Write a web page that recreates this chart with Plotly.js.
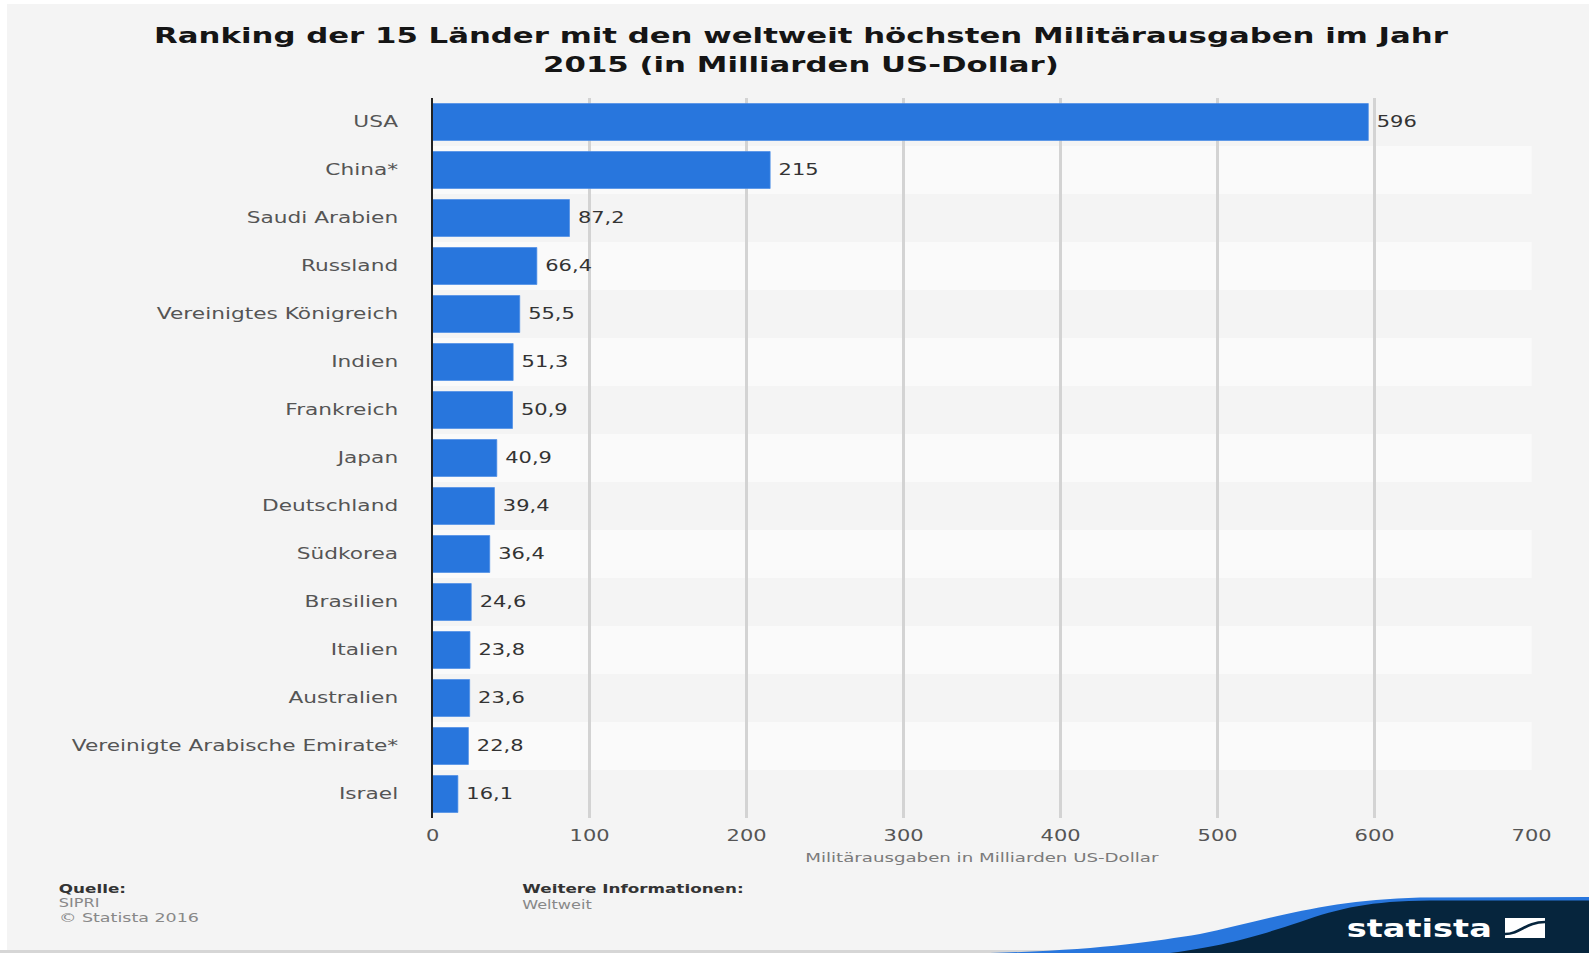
<!DOCTYPE html>
<html>
<head>
<meta charset="utf-8">
<script src="https://cdn.plot.ly/plotly-3.0.1.min.js"></script>
<style>
html,body{margin:0;padding:0;overflow:hidden;background:#fff;}
#chart{width:1135px;height:953px;transform:scaleX(1.4);transform-origin:0 0;}
</style>
</head>
<body>
<div id="chart"></div>
<script>
// ---- data ----
const categories = ['USA','China*','Saudi Arabien','Russland','Vereinigtes Königreich','Indien','Frankreich','Japan','Deutschland','Südkorea','Brasilien','Italien','Australien','Vereinigte Arabische Emirate*','Israel'];
const values = [596, 215, 87.2, 66.4, 55.5, 51.3, 50.9, 40.9, 39.4, 36.4, 24.6, 23.8, 23.6, 22.8, 16.1];
const xTickVals = [0, 100, 200, 300, 400, 500, 600, 700];
const titleText = 'Ranking der 15 Länder mit den weltweit höchsten Militärausgaben im Jahr<br>2015 (in Milliarden US-Dollar)';
const xAxisTitle = 'Militärausgaben in Milliarden US-Dollar';
const sourceLines = ['Quelle:', 'SIPRI', '© Statista 2016'];
const infoLines = ['Weitere Informationen:', 'Weltweit'];
const brand = 'statista';

// ---- geometry helpers (full-size pixel -> paper) ----
const S = 1.4, W = 1135, H = 953;
const M = {l: 309, r: 41, t: 98, b: 135};
const PW = W - M.l - M.r, PH = H - M.t - M.b;
const px = x => ((x / S) - M.l) / PW;
const py = y => (H - M.b - y) / PH;
const P = (x, y) => px(x).toFixed(5) + ',' + py(y).toFixed(5);

const FONT = 'DejaVu Sans, Verdana, sans-serif';
const labels = values.map(v => '\u2009' + v.toLocaleString('de-DE'));

const trace = {
  type: 'bar',
  orientation: 'h',
  y: categories,
  x: values,
  text: labels,
  textposition: 'outside',
  cliponaxis: false,
  textfont: {family: FONT, size: 15, color: '#333333'},
  marker: {color: '#2876dd', line: {color: '#4b8de6', width: 0.6}},
  hoverinfo: 'skip'
};

const shapes = [];
// panel background
shapes.push({type:'rect', xref:'paper', yref:'paper', x0:px(7), x1:px(1589), y0:py(4), y1:py(950), fillcolor:'#f4f4f4', line:{width:0}, layer:'below'});
shapes.push({type:'rect', xref:'paper', yref:'paper', x0:px(0), x1:px(1589), y0:py(950), y1:py(953), fillcolor:'#d6d6d6', line:{width:0}, layer:'below'});
// row stripes
categories.forEach((c, i) => {
  shapes.push({type:'rect', xref:'paper', yref:'y', x0:0, x1:1, y0:i-0.5, y1:i+0.5,
    fillcolor: i % 2 ? '#fafafa' : '#f4f4f4', line:{width:0}, layer:'below'});
});
// statista swoosh
shapes.push({type:'path', xref:'paper', yref:'paper', layer:'above',
  path:'M '+P(990,953)+' C '+P(1100,950)+' '+P(1150,942)+' '+P(1200,934)+' C '+P(1260,922)+' '+P(1320,900)+' '+P(1420,897.5)+' L '+P(1589,897)+' L '+P(1589,953)+' Z',
  fillcolor:'#2876dd', line:{width:0}});
shapes.push({type:'path', xref:'paper', yref:'paper', layer:'above',
  path:'M '+P(1170,953)+' C '+P(1230,945)+' '+P(1260,935)+' '+P(1300,922)+' C '+P(1340,908)+' '+P(1370,901)+' '+P(1430,900.5)+' L '+P(1589,900.5)+' L '+P(1589,953)+' Z',
  fillcolor:'#06253d', line:{width:0}});
// logo icon
shapes.push({type:'rect', xref:'paper', yref:'paper', layer:'above', x0:px(1505), x1:px(1545), y0:py(938), y1:py(918), fillcolor:'#ffffff', line:{width:0}});
shapes.push({type:'path', xref:'paper', yref:'paper', layer:'above',
  path:'M '+P(1505,934)+' C '+P(1520,934)+' '+P(1526,922)+' '+P(1545,922),
  line:{color:'#06253d', width:2.5}});

const annotations = [];
const foot = (text, x, y, size, color, bold) => annotations.push({
  text, xref:'paper', yref:'paper', x:px(x), y:py(y), xanchor:'left', yanchor:'middle',
  showarrow:false, font:{family:FONT, size, color, weight: bold ? 'bold' : 'normal'}
});
foot(sourceLines[0], 56, 889, 12, '#333333', true);
foot(sourceLines[1], 56, 903, 11.5, '#888888', false);
foot(sourceLines[2], 56, 917, 12.5, '#888888', false);
foot(infoLines[0], 519, 889, 12, '#333333', true);
foot(infoLines[1], 519, 905, 11.5, '#888888', false);
annotations.push({text: brand, xref:'paper', yref:'paper', x:px(1420), y:py(929), xanchor:'center', yanchor:'middle',
  showarrow:false, font:{family:FONT, size:24, color:'#ffffff', weight:'bold'}});
annotations.push({text: xAxisTitle, xref:'paper', yref:'paper', x:0.5, y:py(857), xanchor:'center', yanchor:'middle',
  showarrow:false, font:{family:FONT, size:13, color:'#7a7a7a'}});

const layout = {
  width: W, height: H,
  margin: M,
  paper_bgcolor: '#ffffff',
  plot_bgcolor: 'rgba(0,0,0,0)',
  showlegend: false,
  bargap: 0.23,
  title: {text: titleText, x: 801/1589, xanchor: 'center', xref: 'container', y: 1 - 43/H, yanchor: 'top', yref: 'container',
    font: {family: FONT, size: 22, color: '#151515', weight: 'bold'}},
  xaxis: {
    range: [0, 700], tickvals: xTickVals, ticktext: xTickVals.map(String),
    showgrid: true, gridcolor: '#d3d3d3', gridwidth: 2, zeroline: false, showline: false, ticks: '',
    ticklabelstandoff: 7,
    tickfont: {family: FONT, size: 15, color: '#555555'},
    fixedrange: true
  },
  yaxis: {
    type: 'category', autorange: 'reversed', showgrid: false, zeroline: false,
    showline: true, linecolor: '#222222', linewidth: 1.5, ticks: '',
    ticklabelstandoff: 20,
    tickfont: {family: FONT, size: 15.5, color: '#555555'},
    fixedrange: true
  },
  shapes, annotations
};

Plotly.newPlot('chart', [trace], layout, {displayModeBar: false, staticPlot: true});
</script>
</body>
</html>
